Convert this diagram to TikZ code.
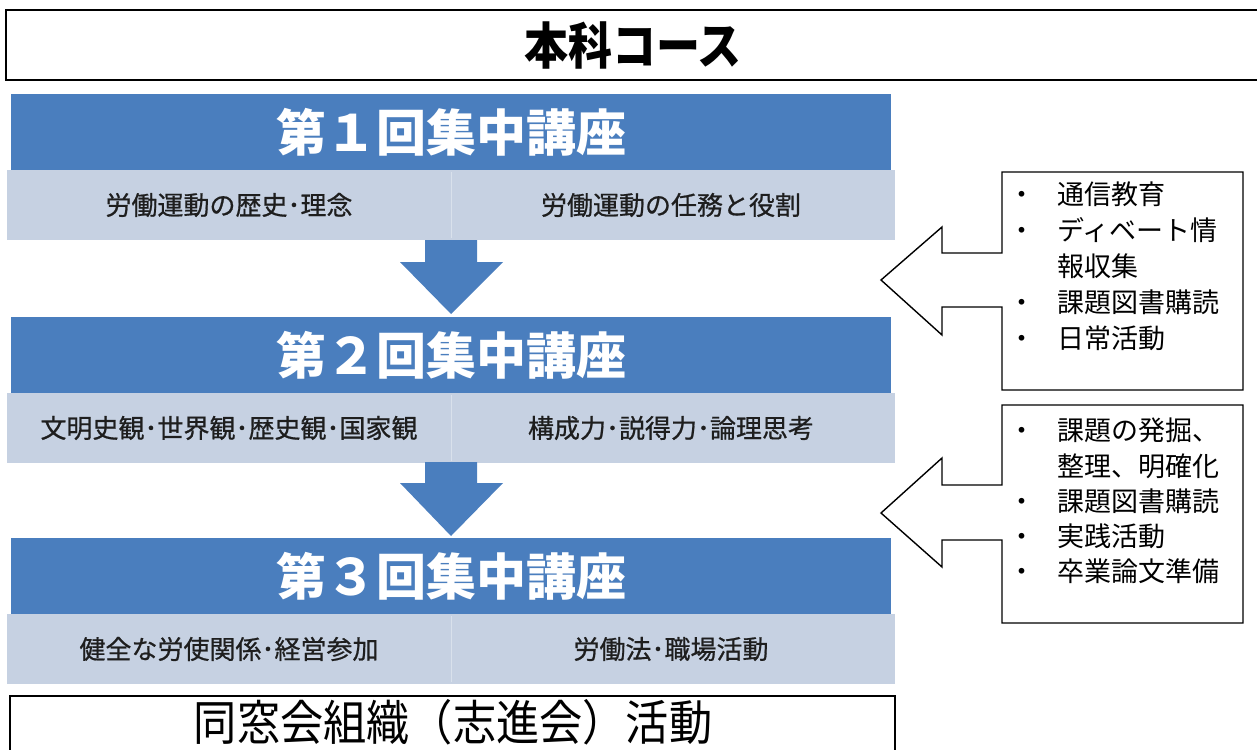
\documentclass[tikz,border=0pt]{standalone}
\usepackage{fontspec}
\newfontfamily\jp{Noto Sans CJK JP}
\newfontfamily\jpmed[FakeBold=0.7]{Noto Sans CJK JP}
\usepackage{graphicx}
\definecolor{hdrblue}{RGB}{74,126,190}
\definecolor{rowblue}{RGB}{198,209,226}
\definecolor{rowtext}{RGB}{30,30,30}
\tikzset{
  hdr/.style={text=white,font=\jp\bfseries\fontsize{50}{50}\selectfont,inner sep=0pt},
  rowtxt/.style={text=rowtext,font=\jpmed\fontsize{26}{26}\selectfont,inner sep=0pt},
  bul/.style={font=\jp\fontsize{27}{27}\selectfont,inner sep=0pt,anchor=center},
  item/.style={font=\jp\fontsize{27}{27}\selectfont,inner sep=0pt,anchor=west},
  downarrow/.style={fill=hdrblue,draw=none},
  callout/.style={draw=black,line width=1.4pt,fill=white,line join=miter},
  frame/.style={draw=black,line width=2pt}
}
\begin{document}
\begin{tikzpicture}[x=1pt,y=-1pt]
\useasboundingbox (0,0) rectangle (1257,749);
% top box
\draw[frame] (1260,10) -- (6,10) -- (6,80) -- (1260,80);
\node[font=\jp\bfseries\fontsize{50}{50}\selectfont,inner sep=0pt] (title) at (633,45) {\scalebox{0.88}[1]{本科コース}};
% blocks
\foreach \t/\n/\l/\r in {94/１/労働運動の歴史･理念/労働運動の任務と役割,
                         317/２/文明史観･世界観･歴史観･国家観/構成力･説得力･論理思考,
                         538/３/健全な労使関係･経営参加/労働法･職場活動}{
  \fill[rowblue] (7,\t+76) rectangle (895,\t+146);
  \fill[hdrblue] (11,\t) rectangle (891,\t+76);
  \draw[white,opacity=0.35,line width=1pt] (451,\t+78) -- (451,\t+144);
  \node[hdr] (h\n) at (451,\t+38) {第\n 回集中講座};
  \node[rowtxt] (l\n) at (229,\t+111) {\l};
  \node[rowtxt] (r\n) at (671,\t+111) {\r};
}
% down arrows
\fill[downarrow] (425,240) -- (477,240) -- (477,262) -- (503,262) -- (451,314) -- (400,262) -- (425,262) -- cycle;
\fill[downarrow] (425,462) -- (477,462) -- (477,483) -- (503,483) -- (451,536) -- (400,483) -- (425,483) -- cycle;
% bottom box
\draw[frame] (10,752) -- (10,696) -- (895,696) -- (895,752);
\node[font=\jp\fontsize{48}{48}\selectfont,inner sep=0pt] (alumni) at (453,722) {\scalebox{0.9}[1]{同窓会組織（志進会）活動}};
% callout 1
\draw[callout] (1243,172) -- (1002,172) -- (1002,253) -- (942,253) -- (942,227) -- (881,280) -- (942,335) -- (942,307) -- (1002,307) -- (1002,390) -- (1243,390) -- cycle;
\foreach \y/\b/\s [count=\i] in {194/・/通信教育, 230/・/ディベート情, 266//報収集, 302/・/課題図書購読, 338/・/日常活動}{
  \node[bul] (ba\i) at (1022,\y+4) {\b};
  \node[item] (ta\i) at (1057,\y) {\s};
}
% callout 2
\draw[callout] (1243,405) -- (1002,405) -- (1002,485) -- (942,485) -- (942,458) -- (881,513) -- (942,567) -- (942,540) -- (1002,540) -- (1002,623) -- (1243,623) -- cycle;
\foreach \y/\b/\s [count=\i] in {430/・/課題の発掘、, 466//整理、明確化, 501/・/課題図書購読, 536/・/実践活動, 571/・/卒業論文準備}{
  \node[bul] (bb\i) at (1022,\y+4) {\b};
  \node[item] (tb\i) at (1057,\y) {\s};
}
\end{tikzpicture}
\end{document}
